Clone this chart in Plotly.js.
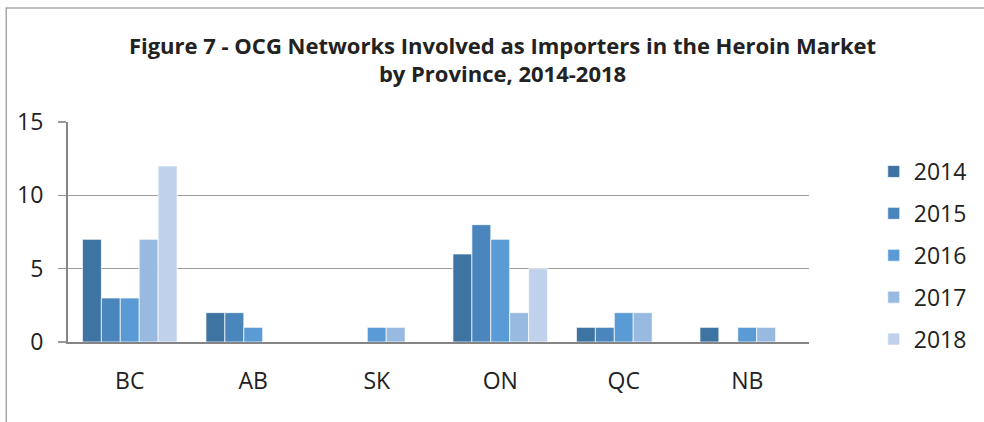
<!DOCTYPE html>
<html><head><meta charset="utf-8">
<script src="https://cdn.plot.ly/plotly-3.0.1.min.js"></script>
<style>html,body{margin:0;padding:0;background:#fff}#c{width:984px;height:422px}</style>
</head><body><div id="c"></div>
<script>
const provinces = ["BC","AB","SK","ON","QC","NB"];
const years = ["2014","2015","2016","2017","2018"];
const v2014 = [7,2,0,6,1,1];
const v2015 = [3,2,0,8,1,0];
const v2016 = [3,1,1,7,2,1];
const v2017 = [7,0,1,2,2,1];
const v2018 = [12,0,0,5,0,0];
const series = [v2014,v2015,v2016,v2017,v2018];
const colors = ["#3D74A2","#4A86BC","#5B9BD5","#98B9E0","#BFD1EB"];
const FONT = "'Open Sans', Lato, sans-serif";

const traces = series.map((vals,i)=>({
  type:"bar", name:years[i], x:provinces, y:vals,
  marker:{color:colors[i], line:{color:"#ffffff", width:0.7}},
  legendgroup:"g"+i
}));

const L=68, R=812, T=122, B=342;
const W=984, H=422;
const pw=R-L, ph=B-T;
const layout = {
  width:W, height:H,
  margin:{l:L, r:W-R, t:T, b:H-B, pad:0},
  paper_bgcolor:"#ffffff", plot_bgcolor:"#ffffff",
  font:{family:FONT, color:"#222", size:23},
  title:{text:"<b>Figure 7 - OCG Networks Involved as Importers in the Heroin Market<br>by Province, 2014-2018</b>",
    font:{family:FONT, size:22, color:"#222"}, x:0.5107, xanchor:"center", y:0.873, yanchor:"top"},
  barmode:"group", bargap:0.234, bargroupgap:0,
  xaxis:{showgrid:false, showline:true, linecolor:"#858585", linewidth:2, ticks:"", tickfont:{size:23}, ticklabelstandoff:17},
  yaxis:{range:[0,15], dtick:5, showgrid:true, gridcolor:"#a0a0a0", gridwidth:1.6, showline:true, linecolor:"#858585", linewidth:2,
    ticks:"outside", ticklen:8, tickcolor:"#999999", tickwidth:1.5, tickfont:{size:23}, zeroline:false, ticklabelstandoff:10},
  showlegend:true,
  legend:{x:(877-L)/pw, xanchor:"left", y:1-(150-T)/ph, yanchor:"top", font:{size:23}, tracegroupgap:9, itemwidth:30, bgcolor:"rgba(0,0,0,0)"},
  shapes:[{type:"rect", xref:"paper", yref:"paper", x0:(6-L)/pw, x1:(1000-L)/pw, y0:(B-440)/ph, y1:1+(T-8)/ph,
    line:{color:"#a6a6a6", width:1.5}, fillcolor:"rgba(0,0,0,0)", layer:"below"}]
};
Plotly.newPlot("c", traces, layout, {displayModeBar:false, staticPlot:true});
</script></body></html>
